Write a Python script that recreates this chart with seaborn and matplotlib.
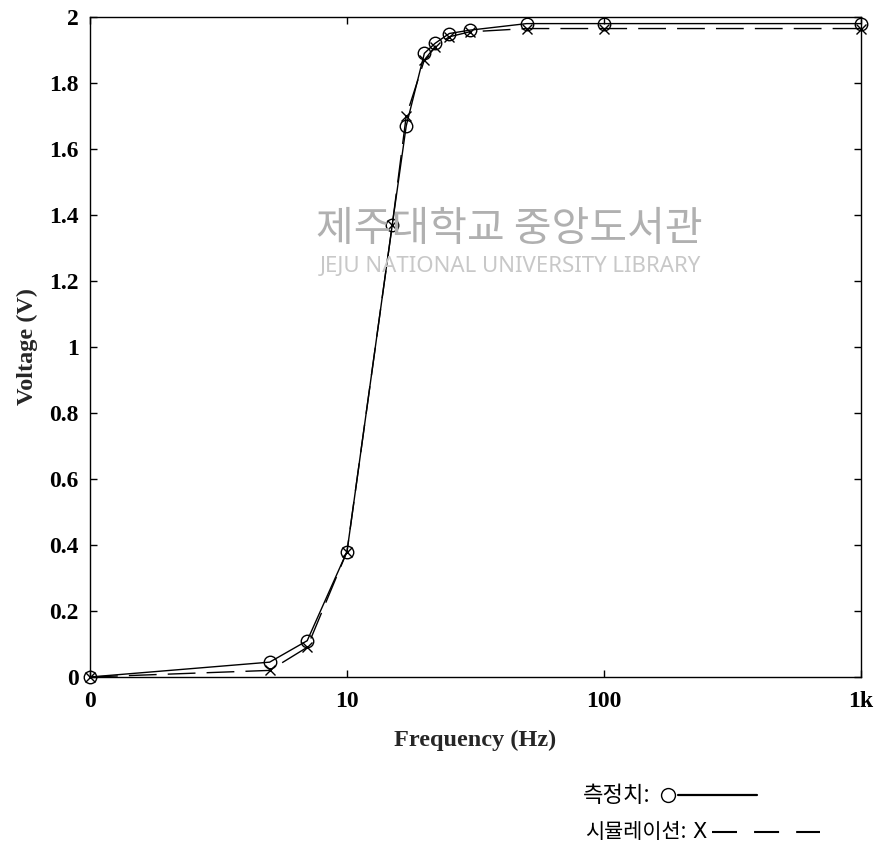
import numpy as np
import pandas as pd
import matplotlib
matplotlib.use("Agg")
import matplotlib.pyplot as plt
import seaborn as sns
from matplotlib.lines import Line2D

# ---- data ----
freq_meas = [1, 5, 7, 10, 15, 17, 20, 22, 25, 30, 50, 100, 1000]
volt_meas = [0.0, 0.045, 0.11, 0.38, 1.37, 1.67, 1.89, 1.92, 1.95, 1.96, 1.98, 1.98, 1.98]
freq_sim = [1, 5, 7, 10, 15, 17, 20, 22, 25, 30, 50, 100, 1000]
volt_sim = [0.0, 0.02, 0.09, 0.38, 1.37, 1.70, 1.87, 1.91, 1.94, 1.955, 1.965, 1.965, 1.965]
x_ticks = [1, 10, 100, 1000]
x_tick_labels = ["0", "10", "100", "1k"]
y_ticks = [0, 0.2, 0.4, 0.6, 0.8, 1.0, 1.2, 1.4, 1.6, 1.8, 2.0]
y_tick_labels = ["0", "0.2", "0.4", "0.6", "0.8", "1", "1.2", "1.4", "1.6", "1.8", "2"]
legend_meas = "측정치:"
legend_sim = "시뮬레이션:"
watermark_ko = "제주대학교 중앙도서관"
watermark_en = "JEJU NATIONAL UNIVERSITY LIBRARY"

sns.set_style("ticks")
plt.rcParams["font.family"] = ["Liberation Serif", "DejaVu Serif"]

fig = plt.figure(figsize=(8.78, 8.48), dpi=100)
ax = fig.add_axes([90 / 878, 1 - 677 / 848, (861 - 90) / 878, (677 - 17) / 848])

# watermark (behind data)
fig.text(509 / 878, 1 - 230 / 848, watermark_ko, ha="center", va="center",
         fontsize=29.5, color="#b0b0b0", family=["Noto Sans CJK KR", "DejaVu Sans"], zorder=0)
fig.text(510 / 878, 1 - 267 / 848, watermark_en, ha="center", va="center",
         fontsize=16, color="#c8c8c8", family=["Noto Sans", "DejaVu Sans"], zorder=0)

meas = pd.DataFrame({"f": freq_meas, "v": volt_meas})
sim = pd.DataFrame({"f": freq_sim, "v": volt_sim})

sns.lineplot(data=sim, x="f", y="v", ax=ax, color="black", lw=1.0,
             dashes=False, linestyle=(0, (20, 8)), marker="x", markersize=7,
             markeredgewidth=1.0, markeredgecolor="black", clip_on=False)
sns.lineplot(data=meas, x="f", y="v", ax=ax, color="black", lw=1.0,
             marker="o", markersize=9, markerfacecolor="none",
             markeredgecolor="black", markeredgewidth=1.0, clip_on=False)

ax.set_xscale("log")
ax.set_xlim(1, 1000)
ax.set_ylim(0, 2)
ax.set_xticks(x_ticks)
ax.set_xticklabels(x_tick_labels)
ax.minorticks_off()
ax.xaxis.set_minor_locator(matplotlib.ticker.NullLocator())
ax.set_yticks(y_ticks)
ax.set_yticklabels(y_tick_labels)

for s in ax.spines.values():
    s.set_visible(True)
    s.set_linewidth(1.0)
    s.set_color("black")

ax.tick_params(axis="both", which="both", direction="in", length=5, width=1,
               top=True, right=True, colors="black")
ax.tick_params(axis="x", pad=10, labelsize=17)
ax.tick_params(axis="y", pad=8, labelsize=17)
for lab in ax.get_xticklabels() + ax.get_yticklabels():
    lab.set_fontweight("bold")

ax.set_xlabel("Frequency (Hz)", fontsize=17.5, fontweight="bold", labelpad=13)
ax.set_ylabel("Voltage (V)", fontsize=17.5, fontweight="bold", labelpad=8)

# legend drawn as text + sample lines (below the axes, right side)
cjk = ["Noto Sans CJK KR", "DejaVu Sans"]
fig.text(583 / 878, 1 - 795 / 848, legend_meas, ha="left", va="center",
         fontsize=16, family=cjk, color="black")
fig.add_artist(Line2D([668.5 / 878], [1 - 795 / 848], marker="o", markersize=10,
                      markerfacecolor="none", markeredgecolor="black", lw=0,
                      transform=fig.transFigure))
fig.add_artist(Line2D([678 / 878, 757 / 878], [1 - 795 / 848, 1 - 795 / 848],
                      color="black", lw=1.6, transform=fig.transFigure))
fig.text(585 / 878, 1 - 832 / 848, legend_sim, ha="left", va="center",
         fontsize=15, family=cjk, color="black")
fig.text(700 / 878, 1 - 832 / 848, "X", ha="center", va="center",
         fontsize=15, family=["DejaVu Sans"], color="black")
fig.add_artist(Line2D([712 / 878, 820 / 878], [1 - 832 / 848, 1 - 832 / 848],
                      color="black", lw=1.5, linestyle=(0, (12, 8.2)),
                      transform=fig.transFigure))

fig.savefig("out.png", dpi=100)
